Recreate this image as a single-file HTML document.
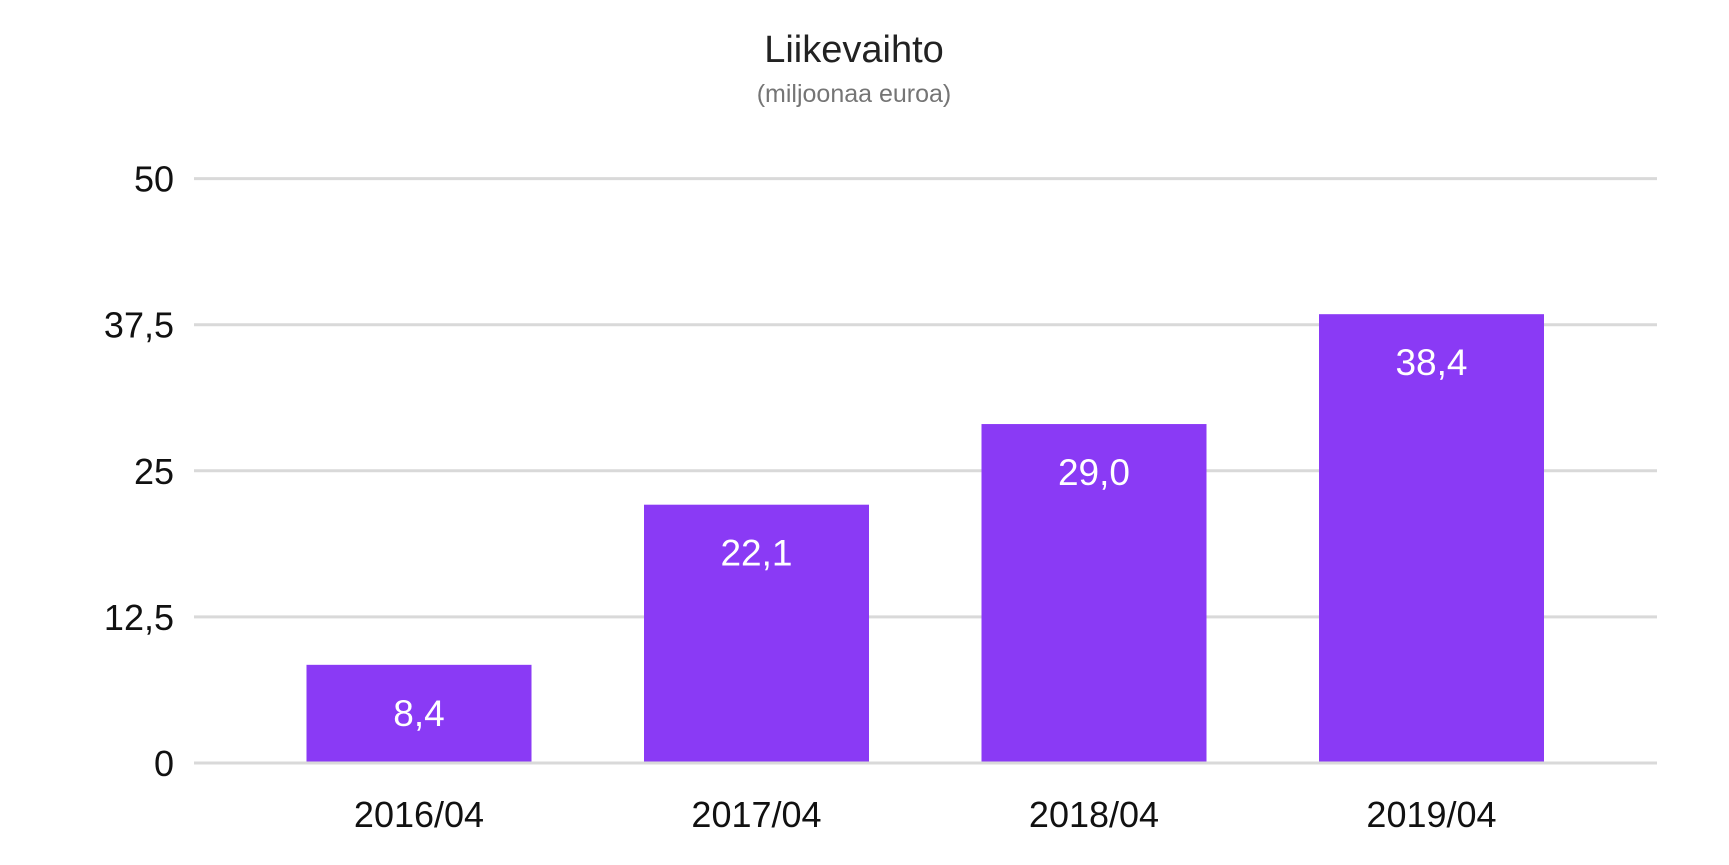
<!DOCTYPE html>
<html><head><meta charset="utf-8"><style>
html,body{margin:0;padding:0;background:#fff;}
svg{display:block;font-family:"Liberation Sans",Arial,sans-serif;}
</style></head><body>
<svg id="chart" width="1729" height="865">
<text x="854" y="62" text-anchor="middle" font-size="38" fill="#222">Liikevaihto</text>
<text x="854" y="102" text-anchor="middle" font-size="25" fill="#757575">(miljoonaa euroa)</text>
<g id="grid"></g><g id="bars"></g><g id="labels"></g>
</svg>
<script>
const categories = ["2016/04","2017/04","2018/04","2019/04"];
const values = [8.4, 22.1, 29.0, 38.4];
const valueLabels = ["8,4","22,1","29,0","38,4"];
const ticks = [0, 12.5, 25, 37.5, 50];
const tickLabels = ["0","12,5","25","37,5","50"];
const NS="http://www.w3.org/2000/svg";
const y0=763, y1=178.6, yMax=50;
function yScale(v){return y0-(v/yMax)*(y0-y1);}
function xCenter(i){return 419+i*337.5;}
const barW=225;
const grid=document.getElementById('grid'), bars=document.getElementById('bars'), labels=document.getElementById('labels');
function mk(tag,attrs,parent){const e=document.createElementNS(NS,tag);for(const k in attrs)e.setAttribute(k,attrs[k]);parent.appendChild(e);return e;}
ticks.forEach((t,i)=>{
  const l=mk('line',{x1:194,x2:1657,y1:yScale(t),y2:yScale(t),stroke:'#d9d9d9','stroke-width':3},grid);
  
  
  const tx=mk('text',{x:174,y:yScale(t)+13,'text-anchor':'end','font-size':36,fill:'#111'},grid);
  tx.textContent=tickLabels[i];
  
  
});
values.forEach((v,i)=>{
  const cx=xCenter(i);
  const r=mk('rect',{x:cx-barW/2,y:yScale(v),width:barW,height:yScale(0)-yScale(v)-1.5,fill:'#8a3af5'},bars);
  
  
  const vl=mk('text',{x:cx,y:yScale(v)+61,'text-anchor':'middle','font-size':37,fill:'#fff'},labels);
  vl.textContent=valueLabels[i];
  
  
  const xl=mk('text',{x:cx,y:827,'text-anchor':'middle','font-size':36,fill:'#111'},labels);
  xl.textContent=categories[i];
  
  
});
</script>
</body></html>
